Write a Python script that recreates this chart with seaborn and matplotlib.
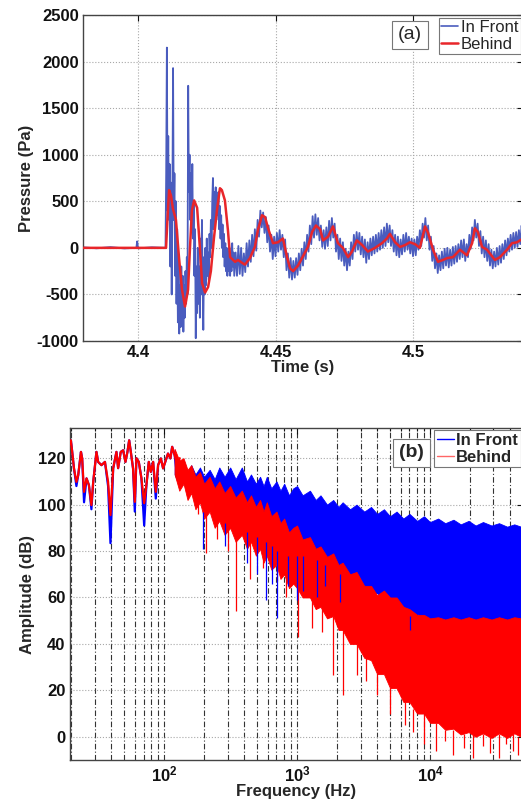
import numpy as np
import pandas as pd
import matplotlib
matplotlib.use("Agg")
import matplotlib.pyplot as plt
import seaborn as sns
from matplotlib.lines import Line2D

# ---------------- data: (a) time history ----------------
# "Behind" (red) trace
red_t = [4.3800, 4.4102, 4.4107, 4.4113, 4.4120, 4.4127, 4.4138, 4.4149, 4.4160, 4.4171,
         4.4182, 4.4189, 4.4196, 4.4204, 4.4215, 4.4225, 4.4233, 4.4244, 4.4255, 4.4265,
         4.4276, 4.4287, 4.4298, 4.4305, 4.4316, 4.4327, 4.4335, 4.4353, 4.4364, 4.4378,
         4.4389, 4.4407, 4.4425, 4.4436, 4.4451, 4.4462, 4.4473, 4.4491, 4.4509, 4.4527,
         4.4542, 4.4553, 4.4564, 4.4582, 4.4600, 4.4618, 4.4633, 4.4647, 4.4662, 4.4673,
         4.4691, 4.4709, 4.4727, 4.4745, 4.4764, 4.4778, 4.4796, 4.4815, 4.4836, 4.4862,
         4.4887, 4.4905, 4.4916, 4.4935, 4.4953, 4.4971, 4.4989, 4.5007, 4.5025, 4.5044,
         4.5055, 4.5073, 4.5091, 4.5109, 4.5124, 4.5145, 4.5171, 4.5196, 4.5215, 4.5225,
         4.5236, 4.5251, 4.5269, 4.5298, 4.5316, 4.5342, 4.5360, 4.5378, 4.5400]
red_p = [0, 0, 300, 620, 560, 420, 300, -100, -450, -630,
         -450, 0, 400, 510, 430, 0, -380, -480, -420, -250,
         100, 400, 640, 620, 510, 190, -100, -150, -130, -160,
         -180, -110, 10, 190, 350, 330, 210, 50, 60, 100,
         -100, -220, -250, -190, -90, 10, 170, 240, 200, 80,
         120, 230, 50, 0, -100, -40, 80, 30, -40, 0,
         50, 100, 150, 60, 10, 30, 60, 40, 0, 230,
         160, -20, -150, -130, -110, -100, -20, -80, 50, 210,
         170, 10, -20, -130, -100, -20, 50, 60, 100]

# "In Front" (blue) trace: quiet part before the arrival
blue_t_pre = [4.3800, 4.3850, 4.3900, 4.3950, 4.3994, 4.3997, 4.4000, 4.4003, 4.4050, 4.4097]
blue_p_pre = [5, -5, 8, -6, 0, 70, 0, -5, 6, 0]
# arrival part, sampled every 0.25 ms from 4.4100 s
blue_p_early = [
    0, 800, 2150,
    400, 1200, 300, 900, -200, 700, -500,
    500, 1930, 300,
    800, -300, 500, -600,
    200, -800, -100, -920, -400,
    -850, -200, -700, -300, -900, -400,
    -750, -250, -600, -100, -500,
    1740, 600,
    1000, 300, 800, 200, 900, 100, 500,
    -300, 200, -970, -200, -700, 0, -600,
    -200, -750, 100, -500, 300, -400, -880,
    -100, -500, 0, -400, 100, -300, -50,
    -350, 150, -100, 300, 0, 500, 750,
    200, 600, 250, 650, 300, 550, 350,
    600, 200, 450, 100, 350, 0, 250,
    -100, 150, -200, 50, -250, 0,
    -300, -50, -250, 0, -300, -100, -250, 50, -200, -50, -300]
# later part, sampled every 0.5 ms from 4.4355 s
blue_p_late = [
    -50, -300, 20, -280, 0, -300, -60, -260, 50,
    -200, 80, -150, 140, -90, 200, -30, 300, 120, 400,
    220, 380, 160, 330, 60, 240, -40, 140, -120, 120,
    -90, 160, -40, 190, -20, 140, -100, 90, -240, -60,
    -320, -110, -340, -140, -320, -110, -290, -60, -240, -10,
    -190, 60, -120, 140, -40, 240, 40, 340, 110, 360,
    140, 320, 80, 240, 10, 190, -10, 220, 20, 290,
    80, 320, 110, 260, -40, 140, -120, 100, -140, 60,
    -190, -10, -240, -40, -190, 60, -120, 140, -40, 170,
    -20, 160, -70, 120, -100, 90, -160, 60, -120, 100,
    -80, 120, -60, 140, -40, 160, -20, 190, 0, 220,
    20, 260, 60, 240, 20, 190, -40, 140, -80, 120,
    -100, 90, -70, 140, -40, 160, -20, 120, -60, 100,
    -90, 90, -80, 120, -20, 190, 20, 260, 110, 320,
    80, 240, -20, 120, -140, 20, -220, -60, -270, -80,
    -240, -40, -220, -10, -190, 0, -210, -20, -190, 10,
    -170, 20, -150, 40, -120, 80, -100, 90, -140, 40,
    -100, 140, -10, 220, 80, 300, 110, 260, 20, 180,
    -60, 120, -100, 80, -140, 40, -190, -20, -220, -40,
    -200, 0, -180, 20, -160, 40, -120, 80, -80, 100,
    -40, 140, -20, 160, 0, 170, 10, 190, 40, 240,
    80]
blue_t_early = np.round(4.4100 + 0.00025 * np.arange(len(blue_p_early)), 5)
blue_t_late = np.round(4.4355 + 0.0005 * np.arange(len(blue_p_late)), 5)

time_ticks = [4.4, 4.45, 4.5]
time_ticklabels = ["4.4", "4.45", "4.5"]
pressure_ticks = [-1000, -500, 0, 500, 1000, 1500, 2000, 2500]

# ---------------- data: (b) spectra ----------------
lf_f = [19.5, 19.9, 20.3, 21.0, 21.9, 22.6, 23.7, 24.2, 25.0, 26.1,
        27.2, 28.4, 29.3, 31.0, 31.9, 33.8, 35.9, 37.9, 39.5, 41.4,
        43.8, 45.1, 47.2, 49.2, 51.2, 53.0, 54.6, 56.2, 58.4, 60.2,
        61.9, 64.5, 67.5, 70.8, 73.6, 76.7, 79.4, 82.7, 86.6, 90.1,
        94.5, 98.3, 102, 107, 111.5, 115, 120, 125.9, 131]
lf_red = [126, 127.7, 123.4, 115.6, 109.8, 112.7, 122.7, 119.9, 105.5, 111.3,
          108.4, 99.8, 109.8, 122.7, 118.4, 117, 118.4, 109.8, 95.5, 115.6,
          122.7, 115.7, 122.7, 123.4, 118.4, 122.7, 127.7, 122.7, 115.6, 101.2,
          120, 118.4, 111.4, 100.6, 108.4, 118.4, 114.1, 118.4, 105.5, 117,
          119.9, 115.6, 118.4, 122, 119.9, 124.9, 121.3, 117, 120]
lf_blue = [126, 127.7, 123.4, 115.6, 108, 112.7, 122.7, 119.9, 101, 111.3,
           108.4, 98, 109.8, 122.7, 118.4, 117, 118.4, 108, 83.4, 115.6,
           122.7, 115.7, 122.7, 123.4, 118.4, 122.7, 127.7, 122.7, 115.6, 97,
           120, 118.4, 111.4, 91, 108.4, 118.4, 114.1, 118.4, 102.6, 117,
           119.9, 115.6, 118.4, 122, 119.9, 124.9, 121.3, 111.4, 118]

env_f = [120, 130, 140, 150, 160, 172, 186, 200, 220, 240,
         260, 285, 314, 345, 384, 420, 450, 490, 527, 560,
         592, 640, 700, 750, 800, 870, 935, 1000, 1100, 1250,
         1380, 1500, 1680, 1870, 2050, 2200, 2500, 2800, 3200, 3600,
         4000, 4500, 5000, 5600, 6300, 7000, 8000, 9000, 10000, 11500,
         13000, 15000, 17000, 19500, 22000, 25000, 29000, 33000, 38000, 43000,
         48300]
blue_hi = [121, 117, 119, 114, 117, 113, 116, 112, 115, 111,
           116, 112, 116, 111, 116, 110, 113, 109, 112, 108,
           112, 107, 110, 106, 109, 104, 107, 108, 104, 106,
           102, 104, 100, 102, 99, 101, 98, 100, 97, 99,
           96, 98, 95, 97, 94, 96, 93, 95, 92.5, 94,
           92, 93.5, 91.5, 93, 91, 92.5, 91, 92, 90.5, 91.5,
           90.5]
blue_lo = [113, 108, 110, 104, 107, 100, 103, 97, 100, 95,
           98, 92, 95, 90, 93, 88, 91, 86, 89, 84,
           87, 82, 85, 80, 83, 78, 81, 78, 79, 75,
           77, 73, 75, 70, 72, 67, 68, 64, 65, 61,
           62, 58, 59, 55, 56, 52, 53, 50, 51, 49,
           50, 48.5, 49.5, 48.5, 49.5, 48.5, 49.5, 48.5, 49.5, 48.5,
           49]
red_hi = [124, 119, 120, 115, 117, 112, 114, 109, 112, 107,
          110, 105, 108, 103, 106, 101, 104, 99, 102, 97,
          101, 95, 97, 92, 94, 88, 90, 91, 85, 86,
          81, 82, 77.5, 79, 74, 75, 70, 71, 65, 65,
          61, 63, 60, 60, 56, 55, 52.5, 52.5, 51, 51.5,
          50.5, 51.5, 50.5, 51.5, 50.5, 51.5, 50.5, 51.5, 50.5, 51.5,
          51]
red_lo = [113, 106, 109, 102, 105, 98, 101, 94, 97, 90,
          93, 87, 90, 84, 87, 81, 84, 78, 81, 75,
          78, 72, 74, 68, 70, 64, 66, 64, 60, 60,
          55, 56, 51, 52, 46, 46, 40, 40, 34, 33,
          27, 27, 21, 21, 15, 15, 10, 10, 6, 6,
          3, 3.5, 1, 2, 0, 1.5, -0.5, 1.5, -0.5, 1.5,
          0]

red_spk_f = [180, 207, 250, 300, 348, 443, 555, 711, 820, 1020,
             1290, 1550, 1870, 2200, 2800, 3300, 4000, 5000, 6500, 7500,
             9000, 11000, 13000, 15000, 18000, 21000, 25000, 28000, 33000, 37000,
             42000, 46000]
red_spk_top = [102, 96, 94, 90, 86, 84, 78, 74, 70, 65,
               60, 56, 52, 46, 40, 34, 27, 21, 15, 12,
               10, 6, 3, 3, 1, 1, 1, 0, 1, 0,
               1, 0]
red_spk_bot = [96, 79, 85, 80, 54, 68, 72.7, 67, 60, 43,
               47, 45, 26.7, 18, 26.7, 24, 18, 10, 5, 2,
               -3, -6, -2, -8, -5, -9, -4, -7, -9, -3,
               -6, -8]
blue_spk_f = [196, 288, 420, 500, 584, 650, 702, 850, 996, 1110, 1400, 1620, 2100, 7070]
blue_spk_top = [97, 92, 88, 86, 84, 82, 80, 78, 78, 78, 76, 74, 70, 52]
blue_spk_bot = [81, 82, 75, 70, 59, 66, 51, 65, 59, 63, 60, 65, 58, 46]

freq_ticks = [100, 1000, 10000]
freq_ticklabels = [r"$\mathbf{10^{2}}$", r"$\mathbf{10^{3}}$", r"$\mathbf{10^{4}}$"]
amp_ticks = [0, 20, 40, 60, 80, 100, 120]

# ---------------- style ----------------
sns.set_theme(style="white")
plt.rcParams["font.family"] = ["Liberation Sans", "DejaVu Sans"]
plt.rcParams["mathtext.fontset"] = "custom"
plt.rcParams["mathtext.rm"] = "Liberation Sans"
plt.rcParams["mathtext.bf"] = "Liberation Sans:bold"

C_BLUE_A = "#4a5cbe"
C_RED_A = "#e8262a"
C_BLUE_B = "#0000ff"
C_RED_B = "#ff0000"

fig = plt.figure(figsize=(5.21, 8.07), dpi=100)
ax1 = fig.add_axes([83 / 521, 1 - 341 / 807, 440 / 521, 326 / 807])
ax2 = fig.add_axes([69.7 / 521, 1 - 760 / 807, 453.3 / 521, 332 / 807])

# ---------------- (a) ----------------
df_blue = pd.DataFrame({"t": list(blue_t_pre) + list(blue_t_early) + list(blue_t_late),
                        "p": blue_p_pre + blue_p_early + blue_p_late})
df_red = pd.DataFrame({"t": red_t, "p": red_p})
sns.lineplot(data=df_blue, x="t", y="p", ax=ax1, color=C_BLUE_A, lw=1.3,
             estimator=None, sort=False, legend=False, zorder=2)
sns.lineplot(data=df_red, x="t", y="p", ax=ax1, color=C_RED_A, lw=1.8,
             estimator=None, sort=False, legend=False, zorder=3)
ax1.set_xlim(4.38, 4.54)
ax1.set_ylim(-1000, 2500)
ax1.set_xticks(time_ticks)
ax1.set_xticklabels(time_ticklabels)
ax1.set_yticks(pressure_ticks)
ax1.set_yticklabels([str(v) for v in pressure_ticks])
ax1.grid(True, ls=":", color="#a8a8a8", lw=0.8)
ax1.set_xlabel("Time (s)", fontsize=12, fontweight="bold", labelpad=0)
ax1.set_ylabel("Pressure (Pa)", fontsize=12, fontweight="bold", labelpad=2)
ax1.text(0.743, 0.939, "(a)", transform=ax1.transAxes, ha="center", va="center",
         fontsize=14, bbox=dict(boxstyle="square,pad=0.3", fc="white", ec="#777777", lw=0.8),
         zorder=6)
h1 = [Line2D([], [], color=C_BLUE_A, lw=1.2), Line2D([], [], color=C_RED_A, lw=1.8)]
leg1 = ax1.legend(h1, ["In Front", "Behind"], loc="upper right", fontsize=12,
                  handlelength=1.0, handletextpad=0.15, borderpad=0.15, labelspacing=0.1,
                  borderaxespad=0.15, frameon=True, fancybox=False, framealpha=1)
leg1.get_frame().set_edgecolor("#777777")
leg1.get_frame().set_linewidth(0.8)

# ---------------- (b) ----------------
ax2.set_xscale("log")
df_lfb = pd.DataFrame({"f": lf_f, "a": lf_blue})
df_lfr = pd.DataFrame({"f": lf_f, "a": lf_red})
sns.lineplot(data=df_lfb, x="f", y="a", ax=ax2, color=C_BLUE_B, lw=1.6,
             estimator=None, sort=False, legend=False, zorder=2)
ax2.fill_between(env_f, blue_lo, blue_hi, color=C_BLUE_B, lw=0.6, zorder=2)
ax2.fill_between(env_f, red_lo, red_hi, color=C_RED_B, lw=0.6, zorder=3)
ax2.vlines(red_spk_f, red_spk_bot, red_spk_top, color=C_RED_B, lw=0.9, zorder=3)
ax2.vlines(blue_spk_f, blue_spk_bot, blue_spk_top, color=C_BLUE_B, lw=0.9, zorder=3.5)
sns.lineplot(data=df_lfr, x="f", y="a", ax=ax2, color=C_RED_B, lw=1.6,
             estimator=None, sort=False, legend=False, zorder=4)
ax2.set_xlim(19.5, 50000)
ax2.set_ylim(-10, 133)
ax2.set_xticks(freq_ticks)
ax2.set_xticklabels(freq_ticklabels)
ax2.set_yticks(amp_ticks)
ax2.set_yticklabels([str(v) for v in amp_ticks])
ax2.grid(True, which="both", axis="x", ls=(0, (5, 2, 1, 2)), color="#333333", lw=0.8)
ax2.grid(True, which="major", axis="y", ls=":", color="#a8a8a8", lw=0.8)
ax2.set_xlabel("Frequency (Hz)", fontsize=12, fontweight="bold", labelpad=0)
ax2.set_ylabel("Amplitude (dB)", fontsize=12, fontweight="bold", labelpad=2)
ax2.text(0.754, 0.925, "(b)", transform=ax2.transAxes, ha="center", va="center",
         fontsize=14, fontweight="bold",
         bbox=dict(boxstyle="square,pad=0.3", fc="white", ec="#777777", lw=0.8), zorder=6)
h2 = [Line2D([], [], color=C_BLUE_B, lw=1.0), Line2D([], [], color="#ff6666", lw=1.0)]
leg2 = ax2.legend(h2, ["In Front", "Behind"], loc="upper right",
                  prop={"size": 12, "weight": "bold"},
                  handlelength=1.0, handletextpad=0.15, borderpad=0.15, labelspacing=0.1,
                  borderaxespad=0.15, frameon=True, fancybox=False, framealpha=1)
leg2.get_frame().set_edgecolor("#777777")
leg2.get_frame().set_linewidth(0.8)
leg2.set_zorder(7)

for ax in (ax1, ax2):
    ax.tick_params(axis="both", which="both", direction="in", top=True, right=True,
                   labelsize=12, length=4, width=0.8, colors="#111111", pad=3)
    ax.tick_params(axis="both", which="minor", length=2)
    for lab in ax.get_xticklabels() + ax.get_yticklabels():
        lab.set_fontweight("bold")
    for sp in ax.spines.values():
        sp.set_visible(True)
        sp.set_color("#444444")
        sp.set_linewidth(1.0)
    ax.set_facecolor("white")

fig.savefig("out.png", dpi=100, facecolor="white")
